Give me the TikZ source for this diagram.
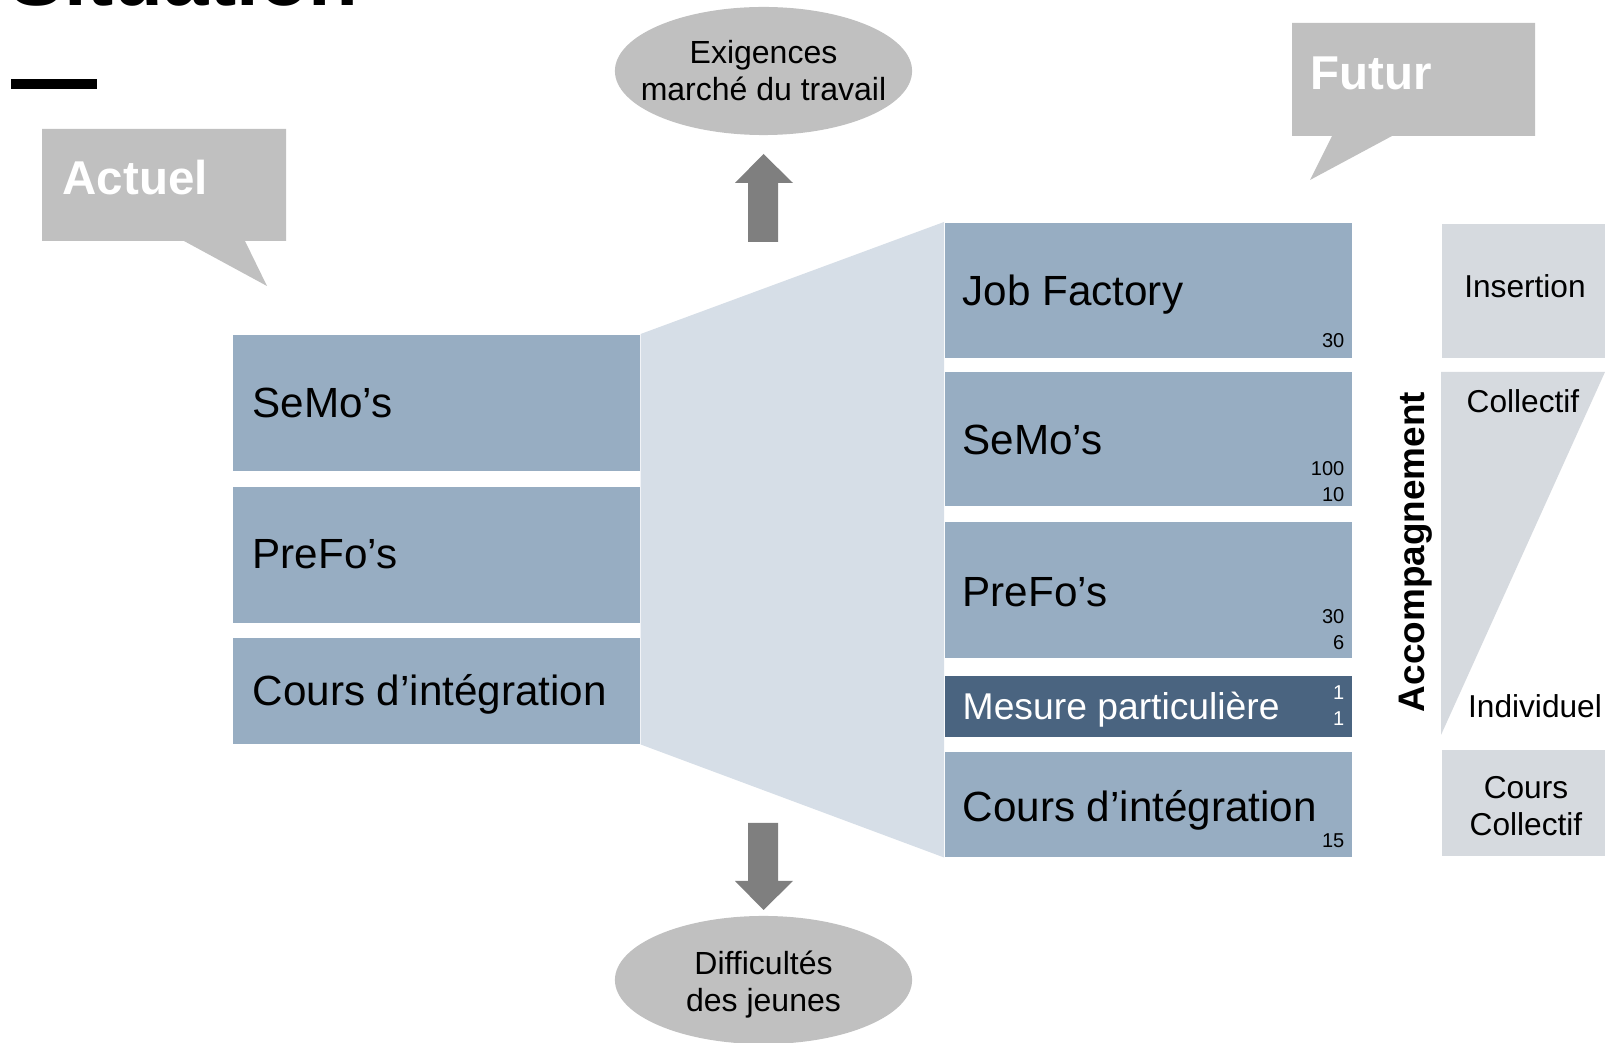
\documentclass[tikz,border=0pt]{standalone}
\usepackage{fontspec}
\setmainfont{Liberation Sans}
\usetikzlibrary{shapes.geometric}
\definecolor{boxblue}{RGB}{151,173,194}
\definecolor{trapblue}{RGB}{214,222,231}
\definecolor{darkblue}{RGB}{74,100,128}
\definecolor{sidegrey}{RGB}{214,218,223}
\definecolor{bubblegrey}{RGB}{192,192,192}
\definecolor{arrowgrey}{RGB}{127,127,127}
\tikzset{
  oldbox/.style={fill=boxblue, minimum width=4.07cm, anchor=north west, inner sep=0pt},
  newbox/.style={fill=boxblue, minimum width=4.07cm, anchor=north west, inner sep=0pt},
  sidebox/.style={fill=sidegrey, minimum width=1.64cm, anchor=north west, inner sep=0pt},
  boxtext/.style={anchor=base west, inner sep=0pt, font=\fontsize{12}{14}\selectfont},
  count/.style={anchor=base east, inner sep=0pt, font=\fontsize{5.7}{7}\selectfont},
  bubbletext/.style={anchor=base west, inner sep=0pt, text=white, font=\bfseries\fontsize{13.5}{16}\selectfont},
  sidetext/.style={inner sep=0pt, align=center, font=\fontsize{9}{10.5}\selectfont},
  oval/.style={ellipse, fill=bubblegrey, minimum width=2.97cm, minimum height=1.28cm, inner sep=0pt},
  ovaltext/.style={inner sep=0pt, align=center, font=\fontsize{9.1}{10.5}\selectfont}
}
\begin{document}
\begin{tikzpicture}[x=0.01cm,y=-0.01cm]
  \useasboundingbox (0,0) rectangle (1605,1043);
  \clip (0,0) rectangle (1605,1043);

  \node[anchor=base west, inner sep=0pt, font=\bfseries\fontsize{23.2}{28}\selectfont] (title) at (9,6) {Situation};
  \fill (11,79) rectangle (97,89);

  % bubbles
  \fill[bubblegrey] (42,129) -- (286,129) -- (286,241) -- (245,241) -- (267,286) -- (184,241) -- (42,241) -- cycle;
  \node[bubbletext] (actuel) at (62,195) {Actuel};
  \fill[bubblegrey] (1292,23) -- (1535,23) -- (1535,136) -- (1392,136) -- (1310,180) -- (1332,136) -- (1292,136) -- cycle;
  \node[bubbletext] (futur) at (1310,90) {Futur};

  % left column
  \node[oldbox, minimum height=1.36cm] (lsemo) at (232,334) {};
  \node[oldbox, minimum height=1.36cm] (lprefo) at (232,486) {};
  \node[oldbox, minimum height=1.06cm] (lcours) at (232,637) {};

  % right column
  \node[newbox, minimum height=1.35cm] (rjob) at (944,222) {};
  \node[newbox, minimum height=1.34cm] (rsemo) at (944,371) {};
  \node[newbox, minimum height=1.36cm] (rprefo) at (944,521) {};
  \node[newbox, minimum height=0.61cm, fill=darkblue] (rmesure) at (944,675) {};
  \node[newbox, minimum height=1.05cm] (rcours) at (944,751) {};

  \fill[trapblue] (lsemo.north east) -- (rjob.north west) -- (rcours.south west) -- (lcours.south east) -- cycle;

  \node[boxtext] (lsemo-t) at (252,418) {SeMo’s};
  \node[boxtext] (lprefo-t) at (252,569) {PreFo’s};
  \node[boxtext] (lcours-t) at (252,706) {Cours d’intégration};

  \node[boxtext] (rjob-t) at (962,306) {Job Factory};
  \node[boxtext] (rsemo-t) at (962,455) {SeMo’s};
  \node[boxtext] (rprefo-t) at (962,607) {PreFo’s};
  \node[boxtext, text=white, font=\fontsize{10.6}{12}\selectfont] (rmesure-t) at (962,720) {Mesure particulière};
  \node[boxtext] (rcours-t) at (962,822) {Cours d’intégration};

  \node[count] (rjob-n) at (1345,348) {30};
  \node[count] (rsemo-n1) at (1345,476) {100};
  \node[count] (rsemo-n2) at (1345,502) {10};
  \node[count] (rprefo-n1) at (1345,624) {30};
  \node[count] (rprefo-n2) at (1345,650) {6};
  \node[count, text=white] (rmesure-n1) at (1345,700) {1};
  \node[count, text=white] (rmesure-n2) at (1345,726) {1};
  \node[count] (rcours-n) at (1345,848) {15};

  % side
  \node[sidebox, minimum height=1.34cm] (insert) at (1441,223) {};
  \node[sidetext] (insert-t) at (1525,286) {Insertion};
  \fill[sidegrey] (1441,372) -- (1605,372) -- (1441,735) -- cycle;
  \node[sidetext] (coll-t) at (1523,401) {Collectif};
  \node[sidetext] (indiv-t) at (1535,706) {Individuel};
  \node[sidebox, minimum height=1.06cm] (coursc) at (1441,749) {};
  \node[sidetext] (coursc-t) at (1526,806) {Cours\\Collectif};
  \node[rotate=90, inner sep=0pt, font=\bfseries\fontsize{10.5}{12}\selectfont] (accomp) at (1416,552) {Accompagnement};

  % top and bottom
  \node[oval] (exig) at (763.5,71) {};
  \node[ovaltext] (exig-t) at (exig.center) {Exigences\\marché du travail};
  \node[oval] (diff) at (763.5,980) {};
  \node[ovaltext] (diff-t) at (763.5,985) {Difficultés\\des jeunes};
  \fill[arrowgrey] (748,242) -- (748,183) -- (735,183) -- (763.5,154) -- (793,183) -- (778,183) -- (778,242) -- cycle;
  \fill[arrowgrey] (748,823) -- (778,823) -- (778,881) -- (793,881) -- (763.5,910) -- (735,881) -- (748,881) -- cycle;
\end{tikzpicture}
\end{document}
